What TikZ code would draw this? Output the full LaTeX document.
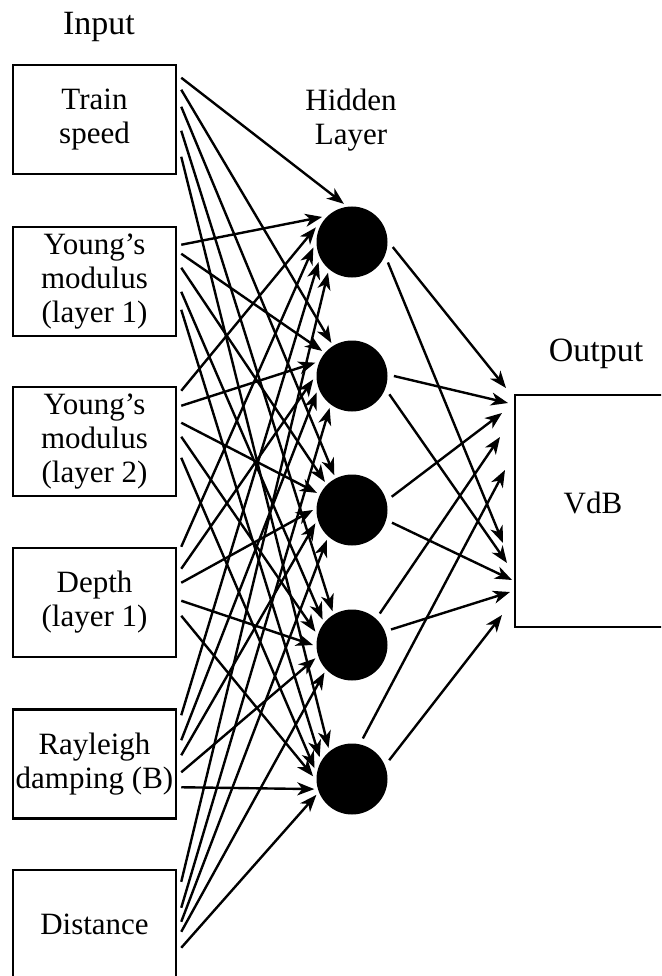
\documentclass[tikz,border=0pt]{standalone}
\usepackage{fontspec}
\setmainfont{Liberation Serif}
\usetikzlibrary{arrows.meta,calc}
\begin{document}
\begin{tikzpicture}[x=1pt,y=-1pt,
  txt/.style={font=\fontsize{31}{34}\selectfont},
  bigtxt/.style={font=\fontsize{34}{38}\selectfont},
  inbox/.style={draw, line width=2.5pt, minimum width=163pt, minimum height=109pt, inner sep=0pt, align=center, txt},
  neuron/.style={circle, fill=black, minimum size=71pt, inner sep=0pt, outer sep=3.5pt},
  arr/.style={line width=2.4pt, -{Stealth[length=17pt,width=13pt,inset=5pt]}},
]
\useasboundingbox (0,0) rectangle (661,976);
\clip (0,0) rectangle (661,976);

% labels
\node[bigtxt, anchor=base] (lin) at (99,35) {Input};
\node[txt, align=center] (lhid) at (351,120) {Hidden\\Layer};
\node[bigtxt, anchor=base] (lout) at (596,361) {Output};

% input boxes
\node[inbox] (b1) at (94.5,119.5) {Train\\speed};
\node[inbox] (b2) at (94.5,281.5) {Young’s\\modulus\\(layer 1)};
\node[inbox] (b3) at (94.5,441.5) {Young’s\\modulus\\(layer 2)};
\node[inbox] (b4) at (94.5,602.5) {Depth\\(layer 1)};
\node[inbox] (b5) at (94.5,764) {Rayleigh\\damping (B)};
\node[inbox] (b6) at (94.5,924.5) {Distance};

% hidden neurons
\node[neuron] (h1) at (352,242) {};
\node[neuron] (h2) at (352,376) {};
\node[neuron] (h3) at (352,510) {};
\node[neuron] (h4) at (352,645) {};
\node[neuron] (h5) at (352,779) {};

% output box
\node[draw, line width=2.5pt, minimum width=156pt, minimum height=232pt, inner sep=0pt, txt, text depth=16pt] (out) at (593,511) {VdB};

% arrow end points in front of the output box
\coordinate (o1) at (506,388);
\coordinate (o2) at (508,403);
\coordinate (o3) at (502,413);
\coordinate (o4) at (500,437);
\coordinate (o5) at (505,470);
\coordinate (o6) at (503,543);
\coordinate (o7) at (507,563);
\coordinate (o8) at (512,580);
\coordinate (o9) at (510,592);
\coordinate (o10) at (502,615);

% input -> hidden
\foreach \b/\o/\h/\a in {
 b1/14/h1/102, b1/26/h2/122, b1/43/h3/117, b1/67/h4/120, b1/93/h5/127,
 b2/19/h1/140, b2/28/h2/140, b2/42/h3/134, b2/66/h4/139, b2/84/h5/146,
 b3/5/h1/158, b3/20/h2/160, b3/37/h3/154, b3/51/h4/160, b3/72/h5/164,
 b4/0/h1/188, b4/22/h2/185, b4/36/h3/180, b4/54/h4/180, b4/69/h5/176,
 b5/7/h1/211, b5/32/h2/205, b5/47/h3/200, b5/64/h4/200, b5/79/h5/195,
 b6/13/h1/232, b6/39/h2/235, b6/53/h3/230, b6/63/h4/225, b6/79/h5/204}
  \draw[arr] ($(\b.north east)+(4,\o)$) -- (\h.\a);

% hidden -> output
\foreach \h/\a/\o in {h1/-4/o1, h1/-27/o6, h2/1/o2, h2/-24/o7, h3/17/o3, h3/-17/o8, h4/48/o4, h4/22/o9, h5/76/o5, h5/25/o10}
  \draw[arr, shorten <=3pt] (\h.\a) -- (\o);
\end{tikzpicture}
\end{document}
